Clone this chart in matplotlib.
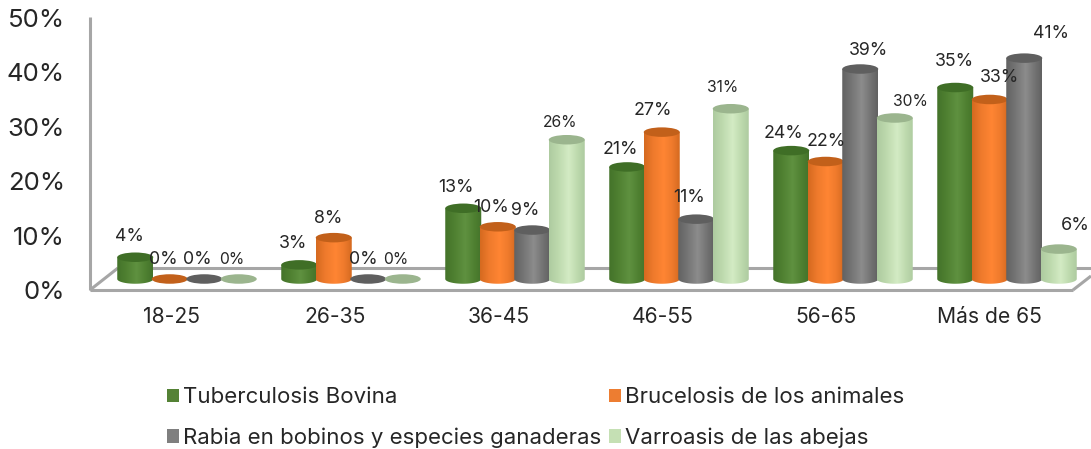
import numpy as np
import matplotlib
matplotlib.use("Agg")
import matplotlib.pyplot as plt
from matplotlib.patches import Ellipse, PathPatch, Patch
from matplotlib.path import Path
from matplotlib.colors import LinearSegmentedColormap
from matplotlib.transforms import ScaledTranslation

categories = ["18-25", "26-35", "36-45", "46-55", "56-65", "Más de 65"]
series_names = ["Tuberculosis Bovina", "Brucelosis de los animales",
                "Rabia en bobinos y especies ganaderas", "Varroasis de las abejas"]
tuberculosis = [4.0, 2.6, 13.0, 20.6, 23.6, 35.2]
brucelosis = [0, 7.6, 9.6, 27.0, 21.6, 33.0]
rabia = [0, 0, 9.0, 11.0, 38.6, 40.6]
varroasis = [0, 0, 25.6, 31.3, 29.6, 5.5]
y_ticks = [0, 10, 20, 30, 40, 50]

body_colors = [("#44732a", "#5f9140", "#4f8031"), ("#d56a20", "#ff8533", "#ee7a2c"),
               ("#626262", "#8c8c8c", "#747474"), ("#aecba0", "#d3ebc4", "#bdd9ad")]
top_colors = ["#3f6e26", "#c2601a", "#5f5f5f", "#9bb58e"]
label_dx = [[-6, -6, -7, -7], [-6, -6, -5, -7], [-7, -7, -7, -7],
            [-7, -9, -7, -8], [-8, 0, 8, 16], [-1, 10, 27, 17]]
label_dy = [[21, 20, 20, 19], [21, 19, 20, 19], [21, 19, 20, 17],
            [17, 22, 22, 21], [17, 20, 19, 16], [26, 22, 25, 24]]
label_size = [[12.8, 12.8, 12.8, 11.3], [12.8, 12.8, 12.8, 11.3], [12.8, 12.8, 12.8, 11.3],
              [12.8, 12.8, 12.8, 11.3], [12.8, 12.8, 12.8, 11.3], [12.8, 12.8, 12.8, 13.0]]

W, H, DPI = 1091, 449, 100
plt.rcParams["font.family"] = "Inter"
fig = plt.figure(figsize=(W / DPI, H / DPI), dpi=DPI)
AX_L, AX_R, AX_T, AX_B = 90, 1071, 18, 290
ax = fig.add_axes([AX_L / W, 1 - AX_B / H, (AX_R - AX_L) / W, (AX_B - AX_T) / H])
ax.set_xlim(-0.5, 5.5)
ax.set_ylim(0, 50)
for s in ax.spines.values():
    s.set_visible(False)
ax.patch.set_visible(False)

px_x = (AX_R - AX_L) / 6
px_y = (AX_B - AX_T) / 50
depth = ScaledTranslation((187 - (AX_L + px_x / 2)) / DPI, 11 / DPI, fig.dpi_scale_trans)
tr = ax.transData + depth

fr = dict(color="#a6a6a6", lw=2.2, transform=fig.transFigure, clip_on=False, zorder=1,
          solid_capstyle="butt")
def P(x, y):
    return x / W, 1 - y / H
for (a, b) in [((90, 17), (90, 290)), ((90, 290), (1073, 290)), ((90, 290), (118, 268)),
               ((118, 268), (1091, 268)), ((1073, 290), (1091, 276))]:
    ax.add_line(plt.Line2D(*zip(P(*a), P(*b)), **fr))

ell_h = 9.5 / px_y
grad = np.linspace(0, 1, 64)
all_series = [tuberculosis, brucelosis, rabia, varroasis]
for g in range(len(categories)):
    for s, vals in enumerate(all_series):
        v = vals[g]
        cx_data = g * 164 / px_x + (s - 1.5) * 34.5 / px_x
        wd = 36 / px_x
        z = 3 + g * 4 + s
        if v > 0:
            t = np.linspace(np.pi, 2 * np.pi, 40)
            xs = cx_data + wd / 2 * np.cos(t)
            ys = ell_h / 2 * np.sin(t)
            vx = np.r_[xs, cx_data + wd / 2, cx_data - wd / 2, xs[0]]
            vy = np.r_[ys, v, v, ys[0]]
            clip = PathPatch(Path(np.c_[vx, vy]), transform=tr, facecolor="none", edgecolor="none")
            ax.add_patch(clip)
            bc = body_colors[s]
            cm = LinearSegmentedColormap.from_list(
                "c", [(0, bc[0]), (0.25, bc[2]), (0.55, bc[1]), (0.8, bc[2]), (1, bc[0])])
            im = ax.imshow(grad[None, :], extent=(cx_data - wd / 2, cx_data + wd / 2, -ell_h, v),
                           cmap=cm, aspect="auto", transform=tr, zorder=z, interpolation="bilinear")
            im.set_clip_box(fig.bbox)
            im.set_clip_path(clip)
        ax.add_patch(Ellipse((cx_data, v), wd, ell_h, transform=tr, facecolor=top_colors[s],
                             edgecolor="none", zorder=z + 0.5, clip_on=False))
        ax.annotate(f"{v:.0f}%", xy=(cx_data, v), xycoords=tr,
                    xytext=(label_dx[g][s] * 72 / DPI, label_dy[g][s] * 72 / DPI),
                    textcoords="offset points", ha="center", va="center",
                    fontsize=label_size[g][s], color="#262626", zorder=50,
                    annotation_clip=False)
ax.set_xlim(-0.5, 5.5)
ax.set_ylim(0, 50)

ax.set_xticks(range(len(categories)), categories)
ax.set_yticks(y_ticks, [f"{t}%" for t in y_ticks])
ax.tick_params(axis="both", length=0)
ax.tick_params(axis="x", labelsize=15.2, pad=12, colors="#262626")
ax.tick_params(axis="y", labelsize=18.5, pad=18, colors="#262626")

handles = [Patch(facecolor=c) for c in ["#548235", "#ed7d31", "#7f7f7f", "#c5e0b4"]]
order = [0, 2, 1, 3]
leg = fig.legend([handles[i] for i in order], [series_names[i] for i in order], ncol=2,
                 loc="upper left", bbox_to_anchor=(167 / W, 1 - 387 / H), frameon=False,
                 fontsize=16, handlelength=0.54, handleheight=0.54, handletextpad=0.17,
                 labelspacing=0.92, columnspacing=0.36, labelcolor="#262626",
                 borderpad=0, borderaxespad=0)
fig.savefig("out.png", dpi=DPI)
